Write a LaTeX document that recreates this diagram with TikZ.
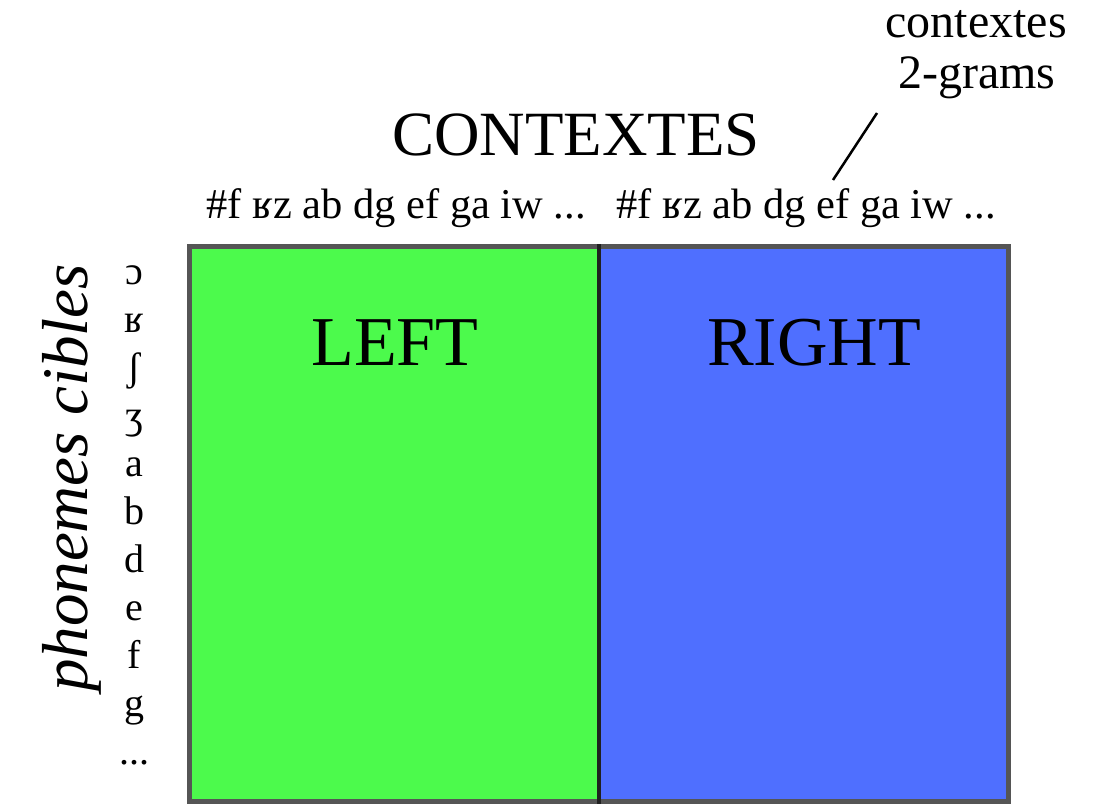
\documentclass[tikz,border=0pt]{standalone}
\usepackage{fontspec}
\setmainfont{Liberation Serif}
\definecolor{leftgreen}{RGB}{76,250,76}
\definecolor{rightblue}{RGB}{79,111,255}
\definecolor{framegray}{RGB}{85,85,85}
\definecolor{divider}{RGB}{32,32,32}
\tikzset{
  txt/.style={inner sep=0pt, outer sep=0pt, anchor=base},
  ctx/.style={txt, font=\fontsize{42.5}{42.5}\selectfont},
  phon/.style={txt, font=\fontsize{40}{40}\selectfont},
  big/.style={txt, font=\fontsize{70}{70}\selectfont},
  title/.style={txt, font=\fontsize{63}{63}\selectfont},
  note/.style={txt, font=\fontsize{48}{48}\selectfont},
}
\begin{document}
\begin{tikzpicture}[x=1pt,y=-1pt]
\useasboundingbox (0,0) rectangle (1105,804);
% panels
\fill[leftgreen] (189.5,246.5) rectangle (599,801.5);
\fill[rightblue] (599,246.5) rectangle (1008.5,801.5);
\draw[framegray, line width=5pt] (189.5,246.5) rectangle (1008.5,801.5);
\coordinate (divtop) at (599,244);
\coordinate (divbot) at (599,804);
\draw[divider, line width=4pt] (divtop) -- (divbot);
\node[big] (left) at (395,365) {LEFT};
\node[big] (right) at (814,365) {RIGHT};
% header
\node[title] (contextes) at (576,155) {CONTEXTES};
\node[ctx] (ctxL) at (396,218) {\#f ʁz ab dg ef ga iw ...};
\node[ctx] (ctxR) at (806,218) {\#f ʁz ab dg ef ga iw ...};
% annotation
\node[note] (n1) at (976,37) {contextes};
\node[note] (n2) at (977,88) {2-grams};
\coordinate (lineA) at (877,113);
\coordinate (lineB) at (833,180);
\draw[black, line width=2.5pt] (lineA) -- (lineB);
% phonemes
\node[phon] (p1) at (134,284) {ɔ};
\node[phon] (p2) at (134,332) {ʁ};
\node[phon] (p3) at (134,380) {ʃ};
\node[phon] (p4) at (134,428) {ʒ};
\node[phon] (p5) at (134,476) {a};
\node[phon] (p6) at (134,524) {b};
\node[phon] (p7) at (134,572) {d};
\node[phon] (p8) at (134,620) {e};
\node[phon] (p9) at (134,668) {f};
\node[phon] (p10) at (134,716) {g};
\node[phon] (p11) at (134,764) {...};
% side label
\node[txt, anchor=center, rotate=90, font=\fontsize{65}{65}\selectfont\itshape] (side) at (72,478) {phonemes cibles};
\end{tikzpicture}
\end{document}
